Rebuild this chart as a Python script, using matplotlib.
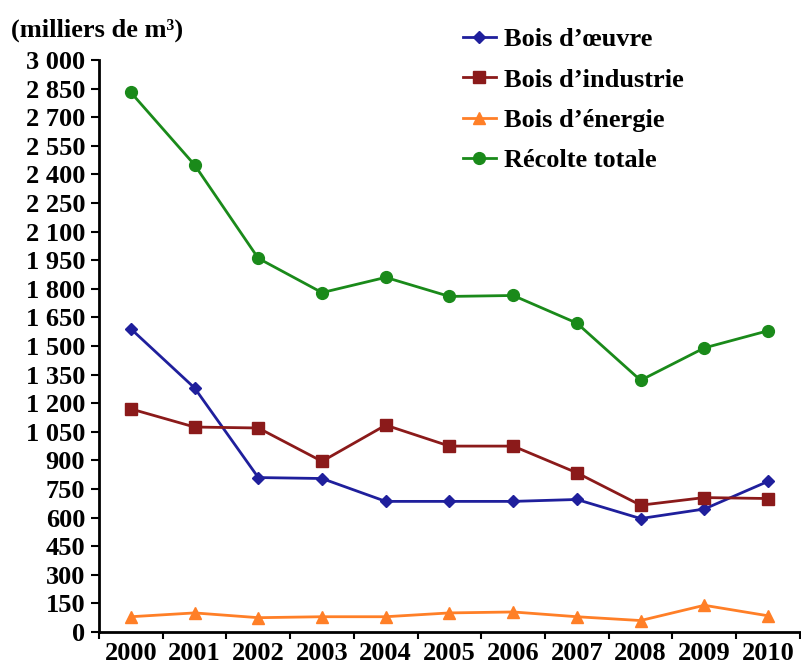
import numpy as np
import matplotlib
matplotlib.use("Agg")
import matplotlib.pyplot as plt

years = ["2000", "2001", "2002", "2003", "2004", "2005", "2006", "2007", "2008", "2009", "2010"]
bois_oeuvre = [1590, 1280, 810, 805, 685, 685, 685, 695, 595, 645, 790]
bois_industrie = [1170, 1075, 1070, 895, 1085, 975, 975, 835, 665, 705, 700]
bois_energie = [80, 100, 75, 80, 80, 100, 105, 80, 60, 140, 85]
recolte_totale = [2830, 2450, 1960, 1780, 1860, 1760, 1765, 1620, 1320, 1490, 1580]
y_ticks = list(range(0, 3001, 150))
y_tick_labels = [f"{v:,}".replace(",", " ") for v in y_ticks]

plt.rcParams["font.family"] = "Liberation Serif"
plt.rcParams["font.weight"] = "bold"

fig = plt.figure(figsize=(8.01, 6.67), dpi=100)
ax = fig.add_axes([0.1236, 0.0525, 0.875, 0.8575])

x = np.arange(len(years))
ax.plot(x, bois_oeuvre, color="#1f1f9c", marker="D", markersize=6.5, linewidth=2, label="Bois d\u2019\u0153uvre")
ax.plot(x, bois_industrie, color="#8b1a1a", marker="s", markersize=8, linewidth=2, label="Bois d\u2019industrie")
ax.plot(x, bois_energie, color="#ff7f27", marker="^", markersize=8, linewidth=2, label="Bois d\u2019\u00e9nergie")
ax.plot(x, recolte_totale, color="#1a8a1a", marker="o", markersize=8.5, linewidth=2, label="R\u00e9colte totale")

ax.set_xlim(-0.5, len(years) - 0.5)
ax.set_ylim(0, 3000)
ax.set_xticks(x)
ax.set_xticklabels(years, fontsize=19)
ax.set_xticks(np.arange(-0.5, len(years), 1), minor=True)
ax.tick_params(axis="x", which="major", length=0, pad=7)
ax.tick_params(axis="x", which="minor", length=5, width=1.5, direction="out")
ax.set_yticks(y_ticks)
ax.set_yticklabels(y_tick_labels, fontsize=19)
ax.tick_params(axis="y", length=6, width=1.5, direction="out", pad=4)

for side in ["top", "right"]:
    ax.spines[side].set_visible(False)
for side in ["left", "bottom"]:
    ax.spines[side].set_linewidth(2)

fig.text(0.014, 0.955, "(milliers de m\u00b3)", fontsize=19, fontweight="bold", ha="left", va="center")

ax.legend(loc="upper left", bbox_to_anchor=(0.485, 1.098), frameon=False, fontsize=19,
          handlelength=1.25, labelspacing=0.64, handletextpad=0.3)

fig.savefig("out.png", dpi=100)
